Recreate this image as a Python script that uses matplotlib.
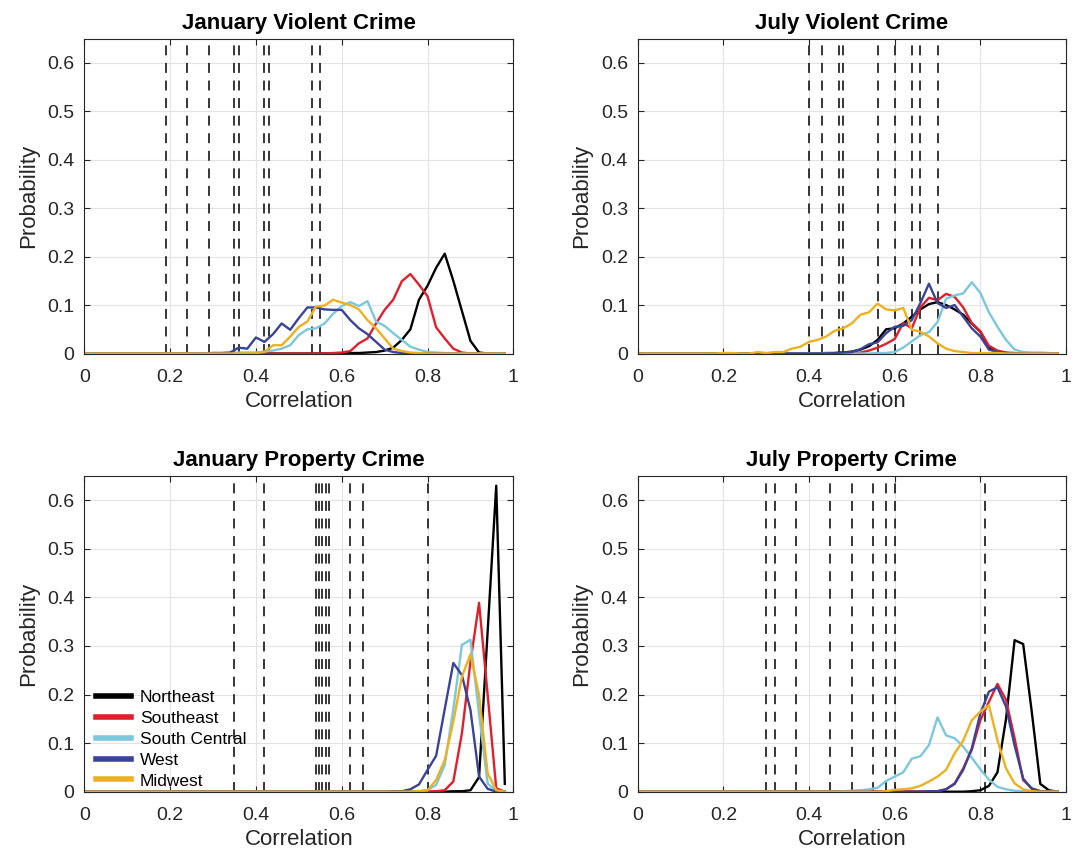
import matplotlib
matplotlib.use("Agg")
import matplotlib.pyplot as plt
import numpy as np

plt.rcParams['font.family'] = ['Liberation Sans', 'DejaVu Sans']

# bin centres of the correlation histograms
corr_bins = np.arange(50) * 0.02

regions = ["Northeast", "Southeast", "South Central", "West", "Midwest"]
region_colors = ["#000000", "#E01F2D", "#7CC8DA", "#3A4396", "#EDB120"]

# ---- January violent crime
jan_violent_ne = [0]*31 + [0.001, 0.001, 0.002, 0.003, 0.006, 0.012, 0.028, 0.05, 0.111, 0.14,
                           0.177, 0.206, 0.15, 0.088, 0.026, 0.002, 0, 0, 0]
jan_violent_se = [0]*29 + [0.001, 0.002, 0.005, 0.021, 0.031, 0.062, 0.09, 0.111, 0.149, 0.164,
                           0.142, 0.118, 0.054, 0.031, 0.01, 0.002] + [0]*5
jan_violent_sc = [0]*15 + [0.001, 0.001, 0.001, 0.002, 0.002, 0.002, 0.004, 0.006, 0.01, 0.017,
                           0.038, 0.05, 0.052, 0.062, 0.082, 0.098, 0.106, 0.098, 0.108, 0.066,
                           0.057, 0.042, 0.028, 0.014, 0.008, 0.003, 0.002, 0.001] + [0]*7
jan_violent_w = [0]*15 + [0.001, 0.001, 0.002, 0.012, 0.01, 0.033, 0.024, 0.04, 0.062, 0.049,
                          0.073, 0.095, 0.095, 0.091, 0.09, 0.09, 0.069, 0.052, 0.04, 0.024,
                          0.008, 0.003, 0.001] + [0]*12
jan_violent_mw = [0]*20 + [0.001, 0.003, 0.017, 0.017, 0.035, 0.055, 0.066, 0.097, 0.099, 0.111,
                           0.105, 0.1, 0.091, 0.069, 0.052, 0.031, 0.01, 0.005, 0.002, 0.001] + [0]*10
jan_violent_obs = [0.19, 0.24, 0.29, 0.35, 0.36, 0.42, 0.43, 0.53, 0.55]

# ---- July violent crime
jul_violent_ne = [0]*22 + [0.001, 0.001, 0.002, 0.004, 0.008, 0.015, 0.028, 0.05, 0.052, 0.062,
                           0.076, 0.091, 0.102, 0.106, 0.1, 0.091, 0.08, 0.062, 0.045, 0.012,
                           0.003, 0.001] + [0]*6
jul_violent_se = [0]*25 + [0.001, 0.002, 0.006, 0.012, 0.02, 0.03, 0.063, 0.052, 0.095, 0.115,
                           0.11, 0.123, 0.117, 0.095, 0.063, 0.046, 0.016, 0.006, 0.002, 0.001] + [0]*5
jul_violent_sc = [0]*28 + [0.001, 0.001, 0.003, 0.012, 0.025, 0.038, 0.044, 0.065, 0.113, 0.12,
                           0.124, 0.147, 0.125, 0.085, 0.055, 0.028, 0.008, 0.003, 0.002, 0.002,
                           0.001, 0]
jul_violent_w = [0]*23 + [0.001, 0.002, 0.003, 0.009, 0.019, 0.023, 0.042, 0.055, 0.057, 0.069,
                          0.104, 0.144, 0.104, 0.094, 0.1, 0.076, 0.052, 0.035, 0.008, 0.003,
                          0.001] + [0]*6
jul_violent_mw = [0]*10 + [0.001, 0.001, 0, 0, 0.003, 0.001, 0.003, 0.003, 0.01, 0.014,
                           0.024, 0.028, 0.035, 0.047, 0.052, 0.062, 0.08, 0.085, 0.103, 0.091,
                           0.089, 0.094, 0.049, 0.045, 0.035, 0.021, 0.01, 0.005, 0.003, 0.001,
                           0.001, 0.001, 0.001] + [0]*7
jul_violent_obs = [0.40, 0.43, 0.47, 0.48, 0.56, 0.60, 0.64, 0.66, 0.70]

# ---- January property crime
jan_property_ne = [0]*43 + [0.001, 0.001, 0.003, 0.03, 0.33, 0.63, 0.016]
jan_property_se = [0]*41 + [0.001, 0.003, 0.021, 0.12, 0.267, 0.389, 0.2, 0.007, 0]
jan_property_sc = [0]*39 + [0.001, 0.003, 0.014, 0.055, 0.17, 0.302, 0.313, 0.16, 0.017, 0.001, 0]
jan_property_w = [0]*36 + [0.001, 0.001, 0.005, 0.015, 0.045, 0.074, 0.17, 0.265, 0.24, 0.168,
                           0.031, 0.006, 0, 0]
jan_property_mw = [0]*39 + [0.001, 0.003, 0.024, 0.065, 0.144, 0.237, 0.283, 0.199, 0.038, 0.003, 0]
jan_property_obs = [0.35, 0.42, 0.54, 0.547, 0.555, 0.563, 0.57, 0.62, 0.65, 0.80]

# ---- July property crime
jul_property_ne = [0]*39 + [0.001, 0.003, 0.012, 0.04, 0.15, 0.312, 0.304, 0.165, 0.016, 0.003, 0]
jul_property_se = [0]*35 + [0.001, 0.005, 0.017, 0.048, 0.086, 0.147, 0.185, 0.222, 0.189, 0.11,
                            0.024, 0.007, 0.001, 0, 0]
jul_property_sc = [0]*24 + [0.001, 0.002, 0.003, 0.005, 0.008, 0.022, 0.031, 0.04, 0.068, 0.073,
                            0.096, 0.153, 0.116, 0.11, 0.093, 0.07, 0.046, 0.025, 0.01, 0.005,
                            0.002, 0.001] + [0]*4
jul_property_w = [0]*34 + [0.001, 0.001, 0.005, 0.016, 0.045, 0.089, 0.161, 0.206, 0.215, 0.175,
                           0.095, 0.027, 0.006, 0.001, 0, 0]
jul_property_mw = [0]*29 + [0.001, 0.004, 0.005, 0.007, 0.012, 0.021, 0.031, 0.045, 0.079, 0.105,
                            0.147, 0.165, 0.178, 0.106, 0.048, 0.017, 0.005, 0.001] + [0]*3
jul_property_obs = [0.30, 0.32, 0.37, 0.45, 0.50, 0.55, 0.58, 0.60, 0.81]

panels = [
    ("January Violent Crime", [jan_violent_ne, jan_violent_se, jan_violent_sc, jan_violent_w, jan_violent_mw], jan_violent_obs),
    ("July Violent Crime", [jul_violent_ne, jul_violent_se, jul_violent_sc, jul_violent_w, jul_violent_mw], jul_violent_obs),
    ("January Property Crime", [jan_property_ne, jan_property_se, jan_property_sc, jan_property_w, jan_property_mw], jan_property_obs),
    ("July Property Crime", [jul_property_ne, jul_property_se, jul_property_sc, jul_property_w, jul_property_mw], jul_property_obs),
]

W, H = 1078, 852
fig = plt.figure(figsize=(W / 100, H / 100), dpi=100)
# axes boxes in pixels: left, top, right, bottom
boxes = [(84.2, 38.5, 513.4, 353.5), (637.7, 38.5, 1066.0, 353.5),
         (84.2, 476.0, 513.4, 791.7), (637.7, 476.0, 1066.0, 791.7)]

dark = "#262626"
for (title, series, obs), (l, t, r, b) in zip(panels, boxes):
    ax = fig.add_axes([l / W, 1 - b / H, (r - l) / W, (b - t) / H])
    for xv in obs:
        ax.plot([xv, xv], [0, 0.65], color="k", lw=1.1, dashes=(6.5, 5))
    for vals, name, col in zip(series, regions, region_colors):
        ax.plot(corr_bins, vals, color=col, lw=1.7, label=name)
    ax.set_xlim(0, 1)
    ax.set_ylim(0, 0.65)
    ax.set_xticks([0, 0.2, 0.4, 0.6, 0.8, 1])
    ax.set_xticklabels(["0", "0.2", "0.4", "0.6", "0.8", "1"])
    ax.set_yticks([0, 0.1, 0.2, 0.3, 0.4, 0.5, 0.6])
    ax.set_yticklabels(["0", "0.1", "0.2", "0.3", "0.4", "0.5", "0.6"])
    ax.grid(True, color="#E3E3E3", lw=0.8)
    ax.set_axisbelow(True)
    ax.tick_params(direction="in", length=4.5, width=0.8, color=dark, labelcolor=dark,
                   labelsize=14, top=True, right=True)
    ax.tick_params(axis="x", pad=11)
    ax.tick_params(axis="y", pad=7)
    for sp in ax.spines.values():
        sp.set_color(dark)
        sp.set_linewidth(0.8)
    ax.set_title(title, fontsize=16, fontweight="bold", color="k", pad=7)
    ax.set_xlabel("Correlation", fontsize=16, color=dark, labelpad=3.5)
    ax.set_ylabel("Probability", fontsize=16, color=dark, labelpad=6)

    if title == "January Property Crime":
        leg = ax.legend(loc="lower left", bbox_to_anchor=(0.027, 0.01), frameon=False,
                        fontsize=12.5, handlelength=2.0, handletextpad=0.55,
                        labelspacing=0.33, borderpad=0, borderaxespad=0)
        for h in leg.legend_handles:
            h.set_linewidth(4)

fig.savefig("out.png", dpi=100)
